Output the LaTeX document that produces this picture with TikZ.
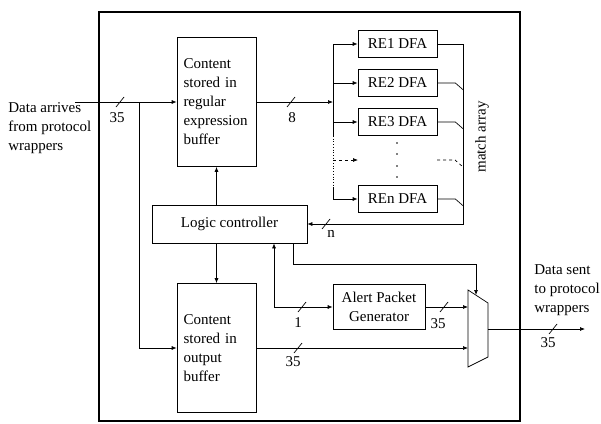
\documentclass[tikz,border=0pt]{standalone}
\usepackage{fontspec}
\setmainfont{Liberation Serif}
\usetikzlibrary{arrows.meta,positioning}
\newcommand{\busmark}[5]{%
  \draw (#1-4,#2+5) -- (#1+4,#2-5);
  \node[lbl] at (#4,#5) {#3};
}

\begin{document}
\begin{tikzpicture}[x=1pt,y=-1pt,line width=0.7pt,
  every node/.style={font=\fontsize{15}{19}\selectfont},
  >={Latex[length=5pt,width=4pt]},
  buf/.style={draw,minimum width=79pt,minimum height=129pt,text width=66pt,align=left,inner sep=0pt},
  dfa/.style={draw,minimum width=79pt,minimum height=27pt,inner sep=0pt},
  lbl/.style={inner sep=0pt}]
  \useasboundingbox (0,0) rectangle (601,423);
  \draw[line width=2.5pt] (99,12) rectangle (520,421);

  % blocks
  \node[buf] (rebuf) at (216.5,102) {Content stored in regular expression buffer};
  \node[buf] (outbuf) at (216.5,348) {Content stored in output buffer\\[9pt]};
  \node[draw,minimum width=155pt,minimum height=38pt] (lc) at (229.5,224) {Logic controller};
  \foreach \n/\y in {1/44,2/83,3/122} {
    \node[dfa] (re\n) at (397.5,\y) {RE\n\ DFA};
  }
  \node[dfa] (ren) at (397.5,199) {REn DFA};
  \node[draw,minimum width=92pt,minimum height=45pt,align=center,inner sep=0pt] (apg) at (379,307) {Alert Packet\\Generator};
  \coordinate (mux1) at (468,290);
  \coordinate (mux2) at (488,303);
  \coordinate (mux3) at (488,357);
  \coordinate (mux4) at (468,367);
  \draw (mux1) -- (mux2) -- (mux3) -- (mux4) -- cycle;
  \coordinate (muxo) at (488,329);
  \coordinate (muxs) at (476,295);

  % texts
  \node[lbl,anchor=west,align=left] (arrive) at (8,128) {Data arrives\\from protocol\\wrappers};
  \node[lbl,anchor=west,align=left] (sent) at (534,290) {Data sent\\to protocol\\wrappers};
  \node[lbl,rotate=90] (match) at (482,137) {match array};

  % input side
  \coordinate (in) at (75,102);
  \coordinate (split) at (139,102);
  \draw[->] (in) -- (rebuf.west);
  \draw[->] (split) |- (outbuf.west);
  \busmark{120}{102}{35}{117}{118}

  % DFA bus
  \coordinate (bus) at (333,102);
  \draw[->] (rebuf.east) -- (bus);
  \busmark{291}{102}{8}{292}{118}
  \draw (re1.west -| bus) -- (333,136);
  \draw[dotted] (333,136) -- (333,188);
  \draw (333,188) -- (ren.west -| bus);
  \foreach \r in {re1,re2,re3,ren} {
    \draw[->] (\r.west -| bus) -- (\r.west);
  }
  \draw[dashed,->] (333,160) -- (358,160);
  \foreach \y in {143,154,166,177} {
    \fill (397,\y) circle (0.9);
  }

  % match array
  \coordinate (mtop) at (463,44);
  \coordinate (mbot) at (463,224);
  \draw[->] (re1.east) -- (mtop) -- (mbot) -- (lc.east);
  \foreach \r in {re2,re3,ren} {
    \draw (\r.east) -- ++(18,0) -- ++(8,7);
  }
  \draw[dashed] (437,160) -- (455,160) -- (463,167);
  \busmark{326}{224}{n}{331}{234}

  % controller links
  \draw[->] (rebuf.south |- lc.north) -- (rebuf.south);
  \draw[->] (outbuf.north |- lc.south) -- (outbuf.north);
  \coordinate (selx) at (293,264);
  \draw[->] (lc.south -| selx) -- (selx) -| (muxs);
  \coordinate (fb) at (274,307);
  \draw[<->] (lc.south -| fb) -- (fb) -- (apg.west);
  \busmark{302}{307}{1}{298}{323}

  % mux side
  \draw[->] (apg.east) -- (apg.east -| mux1);
  \busmark{444}{307}{35}{438}{324}
  \draw[->] (outbuf.east) -- (outbuf.east -| mux1);
  \busmark{298}{348}{35}{293}{362}
  \coordinate (out) at (585,329);
  \draw[->] (muxo) -- (out);
  \busmark{553}{329}{35}{548}{343}
\end{tikzpicture}
\end{document}
